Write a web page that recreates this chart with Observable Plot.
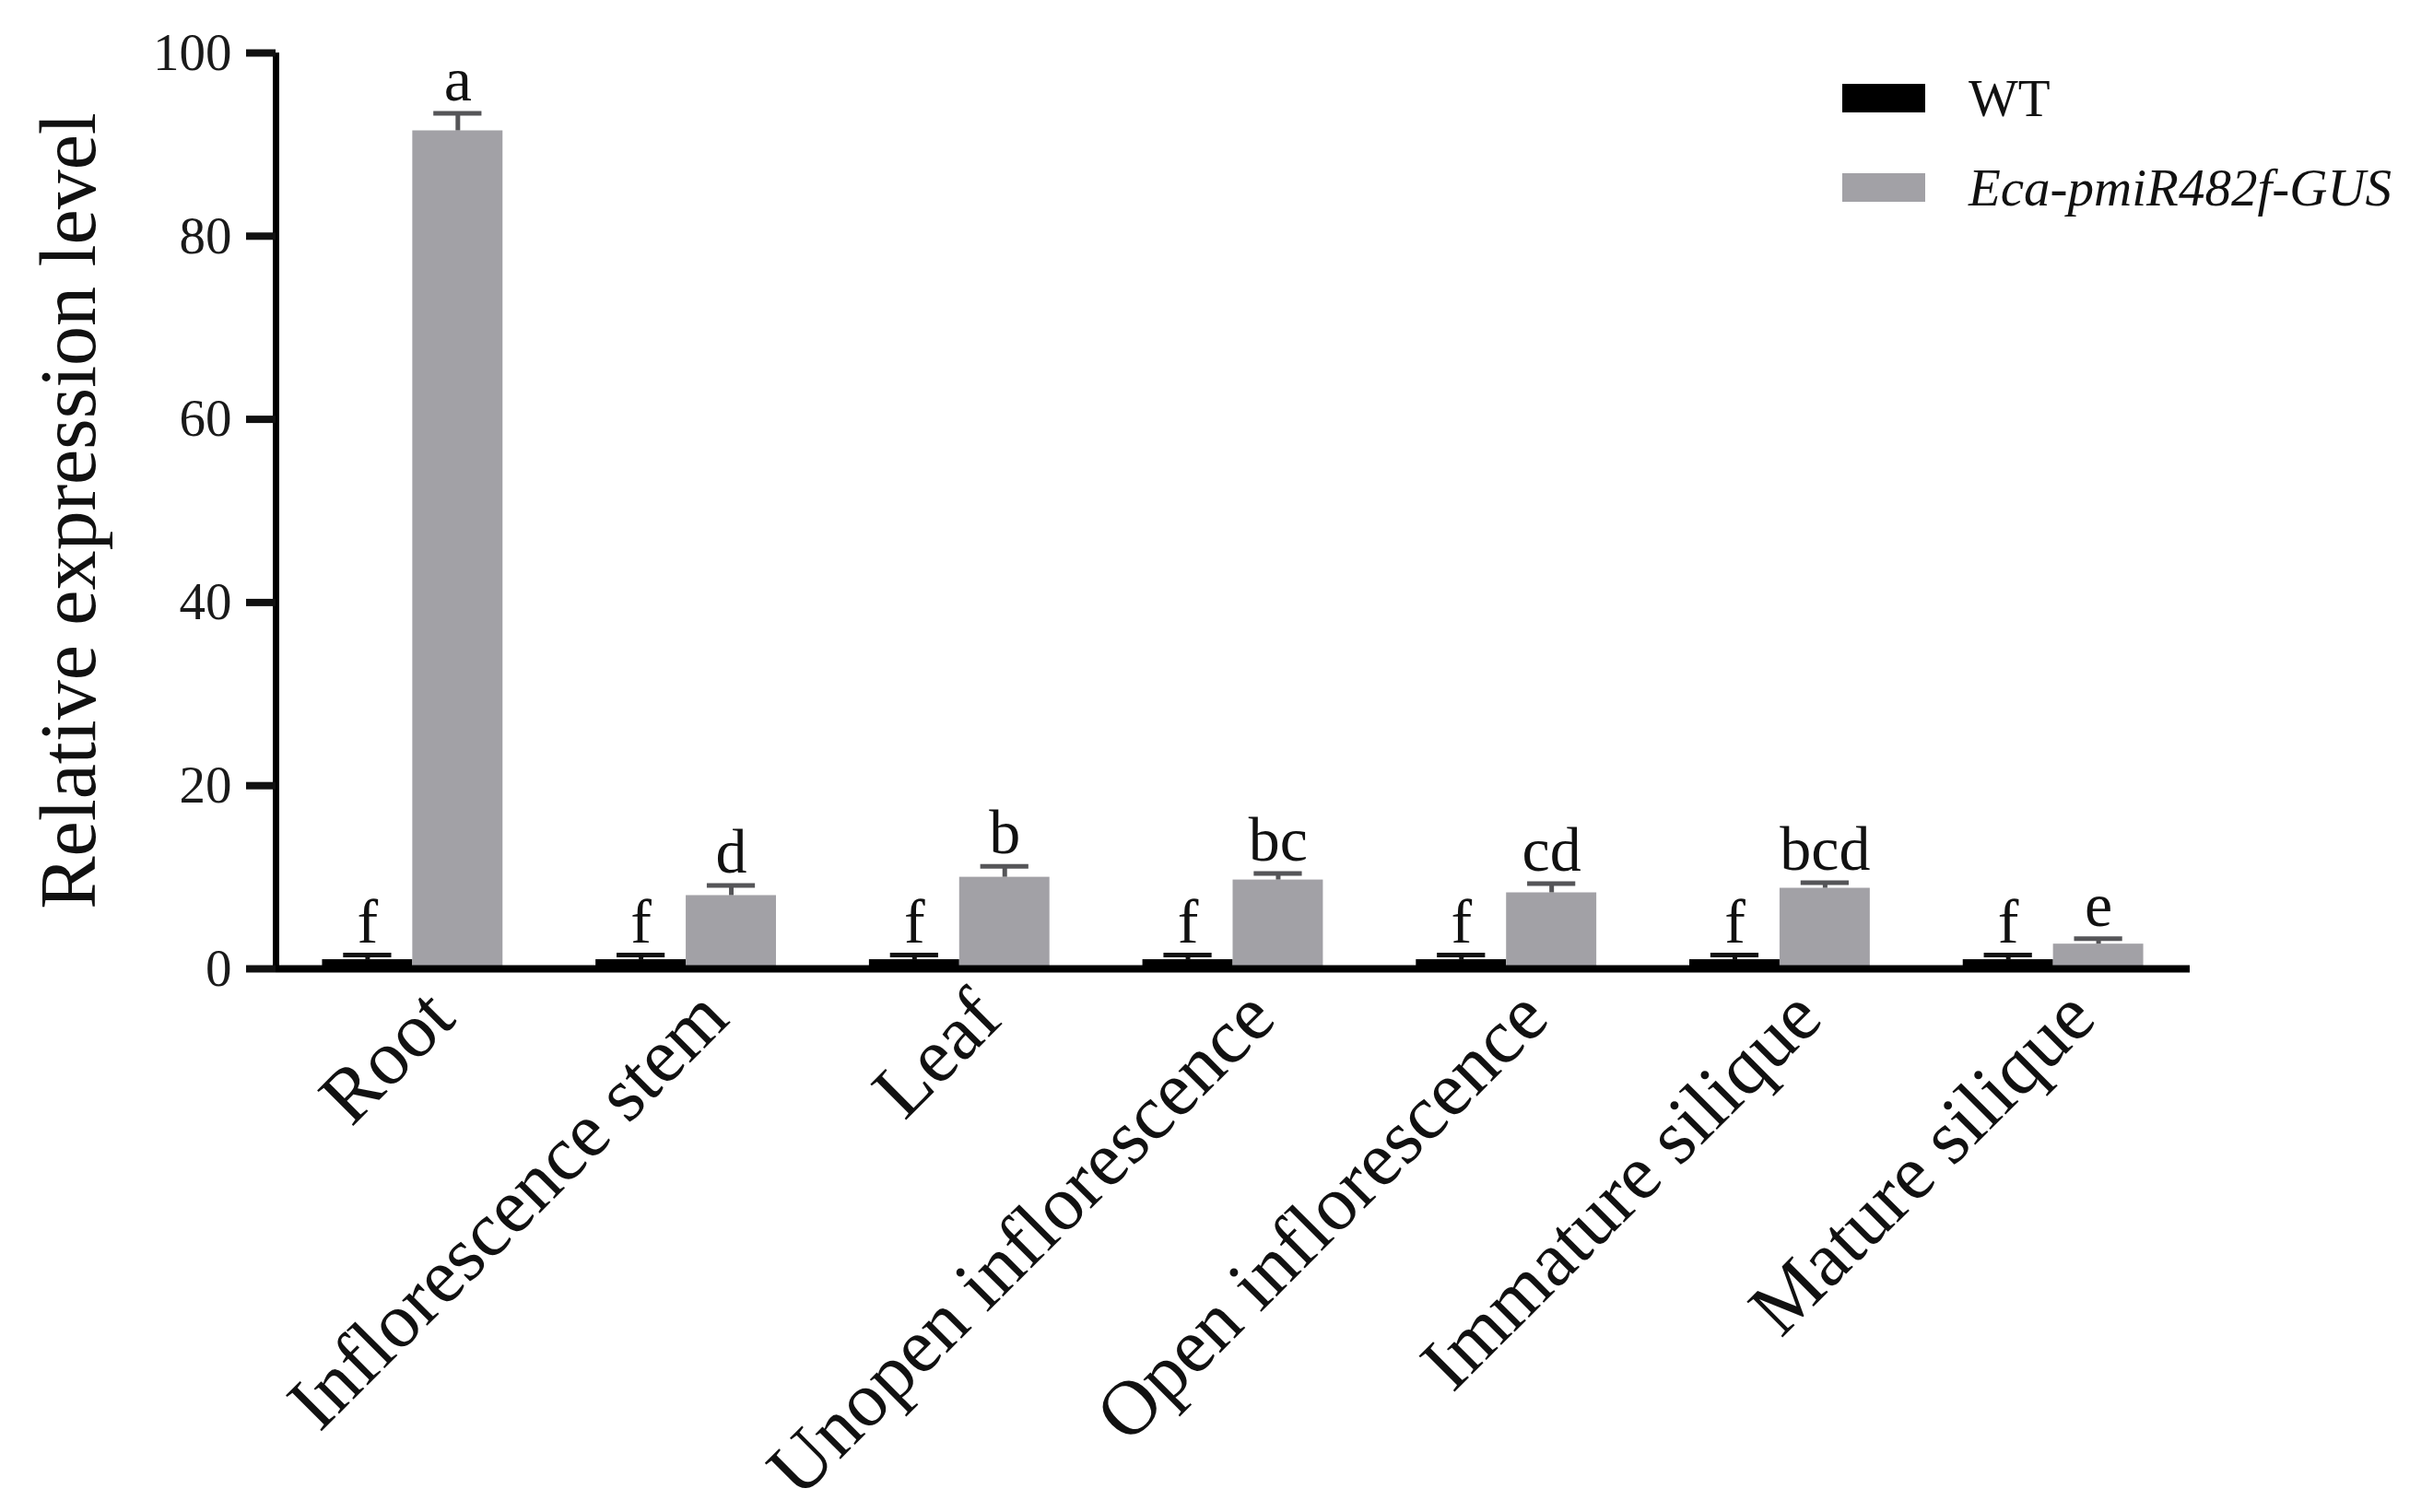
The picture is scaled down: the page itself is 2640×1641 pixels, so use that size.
<!DOCTYPE html>
<html>
<head>
<meta charset="utf-8">
<script src="https://cdn.jsdelivr.net/npm/d3@7"></script>
<script src="https://cdn.jsdelivr.net/npm/@observablehq/plot@0.6"></script>
<style>
  html, body { margin: 0; padding: 0; background: #fff; }
  #wrap { position: relative; width: 2640px; height: 1641px; overflow: hidden; }
  .row { position: absolute; left: 1999px; display: flex; align-items: center; height: 32px; font-family: "Liberation Serif", serif; font-size: 57px; color: #111; white-space: nowrap; }
  .sw { width: 90px; height: 31px; margin-right: 47px; }
</style>
</head>
<body>
<div id="wrap"></div>
<script>
const categories = ["Root", "Inflorescence stem", "Leaf", "Unopen inflorescence", "Open inflorescence", "Immature silique", "Mature silique"];
const seriesNames = ["WT", "Eca-pmiR482f-GUS"];
const seriesColors = ["#000000", "#a2a1a6"];
const errorColors = ["#111111", "#555558"];
const wtValues = [1.0, 1.0, 1.0, 1.0, 1.0, 1.0, 1.0];
const wtErrors = [0.5, 0.5, 0.5, 0.5, 0.5, 0.5, 0.5];
const gusValues = [91.5, 8.0, 10.0, 9.7, 8.3, 8.8, 2.7];
const gusErrors = [1.9, 1.1, 1.2, 0.7, 1.0, 0.6, 0.6];
const wtLetters = ["f", "f", "f", "f", "f", "f", "f"];
const gusLetters = ["a", "d", "b", "bc", "cd", "bcd", "e"];
const yTicks = [0, 20, 40, 60, 80, 100];
const yLabel = "Relative expression level";

// bar geometry in category-index units
const BAR = 0.33, GAP = 0.0, CAP = 0.088;

const rows = [];
categories.forEach((c, i) => {
  rows.push({i, s: 0, name: seriesNames[0], value: wtValues[i], err: wtErrors[i], letter: wtLetters[i]});
  rows.push({i, s: 1, name: seriesNames[1], value: gusValues[i], err: gusErrors[i], letter: gusLetters[i]});
});
const x1 = d => d.s === 0 ? d.i - BAR : d.i + GAP;
const x2 = d => d.s === 0 ? d.i - GAP : d.i + BAR;
const xc = d => (x1(d) + x2(d)) / 2;
const serif = "Liberation Serif, Times New Roman, serif";

const chart = Plot.plot({
  width: 2640,
  height: 1641,
  marginLeft: 299,
  marginRight: 264,
  marginTop: 57,
  marginBottom: 590,
  style: {fontFamily: serif, background: "#fff", color: "#111"},
  x: {type: "linear", domain: [-0.5, categories.length - 0.5], axis: null},
  y: {domain: [0, 100], axis: null},
  color: {domain: seriesNames, range: seriesColors},
  marks: [
    Plot.rectY(rows, {x1, x2, y: "value", fill: "name"}),
    Plot.ruleX(rows, {x: xc, y1: "value", y2: d => d.value + d.err, stroke: d => errorColors[d.s], strokeWidth: 5}),
    Plot.ruleY(rows, {y: d => d.value + d.err, x1: d => xc(d) - CAP, x2: d => xc(d) + CAP, stroke: d => errorColors[d.s], strokeWidth: 5}),
    Plot.text(rows, {x: xc, y: d => d.value + d.err, text: "letter", lineAnchor: "bottom", dy: -14, fontSize: 68, fill: "#111", fontFamily: serif}),
    Plot.ruleX([-0.5], {y1: 0, y2: 100, stroke: "#000", strokeWidth: 7}),
    Plot.ruleY([0], {stroke: "#000", strokeWidth: 8}),
    Plot.axisY({ticks: yTicks, tickSize: 32, tickPadding: 16, strokeWidth: 8, fontSize: 57, label: null, fill: "#1a1a1a"}),
    Plot.axisX({ticks: d3.range(categories.length), tickFormat: i => categories[i], tickRotate: -45, tickSize: 0, tickPadding: 38, dx: 30, fontSize: 84, label: null, fill: "#111"}),
    Plot.text([yLabel], {frameAnchor: "left", rotate: -90, dx: -224, textAnchor: "middle", lineAnchor: "middle", fontSize: 86, fill: "#111", fontFamily: serif})
  ]
});
const wrap = document.getElementById("wrap");
wrap.append(chart);

const tops = [90, 187];
seriesNames.forEach((n, k) => {
  const row = document.createElement("div");
  row.className = "row";
  row.style.top = tops[k] + "px";
  const sw = document.createElement("div");
  sw.className = "sw";
  sw.style.background = seriesColors[k];
  const t = document.createElement("span");
  t.textContent = n;
  if (k === 1) t.style.fontStyle = "italic";
  row.append(sw, t);
  wrap.append(row);
});
</script>
</body>
</html>
